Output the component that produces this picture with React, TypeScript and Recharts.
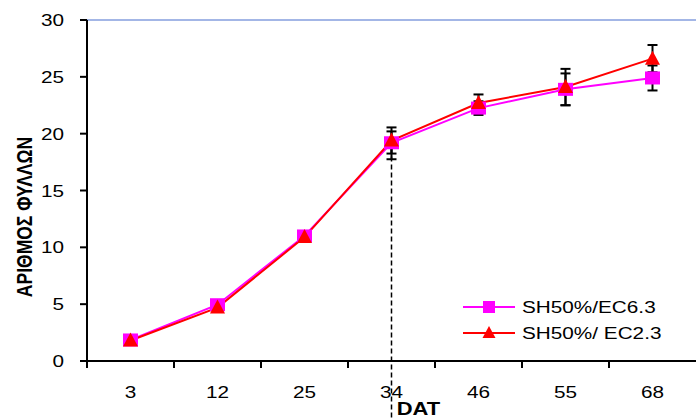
import React from 'react';
import { LineChart, Line, XAxis, YAxis, ErrorBar, ReferenceLine, Legend } from 'recharts';

const categories = ['3', '12', '25', '34', '46', '55', '68'];
const sh63Values = [1.85, 4.95, 11.0, 19.2, 22.25, 23.9, 24.9];
const sh23Values = [1.8, 4.7, 10.9, 19.4, 22.7, 24.1, 26.6];
const sh63Errors: (number[] | null)[] = [null, null, null, [1.45, 1.0], [0.6, 0.6], [1.4, 1.4], [1.1, 1.1]];
const sh23Errors: (number[] | null)[] = [null, null, null, [1.15, 1.15], [0.75, 0.75], [1.6, 1.6], [1.2, 1.2]];
const yTicks = [0, 5, 10, 15, 20, 25, 30];
const seriesNames = ['SH50%/EC6.3', 'SH50%/ EC2.3'];
const seriesColors = ['#FF00FF', '#FF0000'];
const markedCategory = '34';
const markedValue = 19.4;
const xAxisTitle = 'DAT';
const yAxisTitle = 'ΑΡΙΘΜΟΣ ΦΥΛΛΩΝ';

const data = categories.map((c, i) => ({
  dat: c,
  s63: sh63Values[i],
  s23: sh23Values[i],
  e63: sh63Errors[i],
  e23: sh23Errors[i],
}));

const FONT = '"Liberation Sans", Arial, sans-serif';
const SX = 1.22;
const FS = 17;

const SquareDot = (props: any) => {
  const { cx, cy, fill } = props;
  if (cx == null || cy == null) return null;
  return <rect x={cx - 7.5} y={cy - 6.5} width={15} height={13} fill={fill} />;
};

const TriangleDot = (props: any) => {
  const { cx, cy, fill } = props;
  if (cx == null || cy == null) return null;
  return <polygon points={`${cx},${cy - 8} ${cx + 7.5},${cy + 6} ${cx - 7.5},${cy + 6}`} fill={fill} />;
};

const XTick = (props: any) => {
  const { x, y, payload, width, visibleTicksCount } = props;
  const band = width / (visibleTicksCount || 7);
  const axisY = y - 25;
  return (
    <g>
      <line x1={x - band / 2} x2={x - band / 2} y1={axisY} y2={axisY + 7} stroke="#000" strokeWidth={2} />
      <text
        transform={`translate(${x},${y + 12}) scale(${SX},1)`}
        textAnchor="middle"
        fontFamily={FONT}
        fontSize={FS}
        fill="#000"
      >
        {payload.value}
      </text>
    </g>
  );
};

const YTick = (props: any) => {
  const { x, y, payload } = props;
  return (
    <text
      transform={`translate(${x},${y + 6}) scale(${SX},1)`}
      textAnchor="end"
      fontFamily={FONT}
      fontSize={FS}
      fill="#000"
    >
      {payload.value}
    </text>
  );
};

const XTitle = (props: any) => {
  const vb = props.viewBox || { x: 87, width: 609 };
  return (
    <text
      transform={`translate(${vb.x + vb.width / 2 + 27},415) scale(${SX},1)`}
      textAnchor="middle"
      fontFamily={FONT}
      fontSize={18}
      fontWeight="bold"
      fill="#000"
    >
      {xAxisTitle}
    </text>
  );
};

const YTitle = () => (
  <text
    transform={`translate(32,217) scale(${SX},1) rotate(-90)`}
    textAnchor="middle"
    fontFamily={FONT}
    fontSize={17.5}
    fontWeight="bold"
    fill="#000"
  >
    {yAxisTitle}
  </text>
);

const LegendContent = () => (
  <svg width={256} height={70} style={{ display: 'block' }}>
    {seriesNames.map((n, i) => {
      const cy = 27 + i * 26;
      return (
        <g key={n}>
          <line x1={23} x2={75} y1={cy} y2={cy} stroke={seriesColors[i]} strokeWidth={2} />
          {i === 0 ? (
            <rect x={49 - 6} y={cy - 6} width={12} height={12} fill={seriesColors[i]} />
          ) : (
            <polygon points={`49,${cy - 7} ${49 + 6.5},${cy + 5} ${49 - 6.5},${cy + 5}`} fill={seriesColors[i]} />
          )}
          <text
            transform={`translate(82,${cy + 6}) scale(${SX},1)`}
            fontFamily={FONT}
            fontSize={FS}
            fill="#000"
          >
            {n}
          </text>
        </g>
      );
    })}
  </svg>
);

export default function App() {
  return (
    <div style={{ position: 'absolute', left: 0, top: 0, width: 696, height: 418, background: '#fff' }}>
      <LineChart width={696} height={418} data={data} margin={{ top: 20, right: 0, left: 0, bottom: 27 }}>
        <XAxis
          dataKey="dat"
          scale="band"
          height={30}
          axisLine={{ stroke: '#000', strokeWidth: 2 }}
          tickLine={{ stroke: 'none' }}
          tickSize={7}
          tickMargin={18}
          tick={<XTick />}
          interval={0}
          label={<XTitle />}
        />
        <YAxis
          width={87}
          domain={[0, 30]}
          ticks={yTicks}
          axisLine={{ stroke: '#000', strokeWidth: 2 }}
          tickLine={{ stroke: '#000', strokeWidth: 2 }}
          tickSize={7}
          tickMargin={16}
          tick={<YTick />}
          label={<YTitle />}
        />
        <ReferenceLine y={30} stroke="#A3B6E6" strokeWidth={2} />
        <ReferenceLine
          segment={[{ x: markedCategory, y: markedValue }, { x: markedCategory, y: -5 }]}
          stroke="#000"
          strokeWidth={1.5}
          strokeDasharray="5 3"
          ifOverflow="visible"
        />
        <Legend
          layout="vertical"
          align="center"
          verticalAlign="middle"
          wrapperStyle={{ left: 440, top: 280, width: 256, height: 70 }}
          content={<LegendContent />}
        />
        <Line
          dataKey="s63"
          name={seriesNames[0]}
          stroke={seriesColors[0]}
          fill={seriesColors[0]}
          strokeWidth={2}
          dot={<SquareDot />}
          activeDot={false}
          isAnimationActive={false}
        >
          <ErrorBar dataKey="e63" stroke="#000" strokeWidth={2} width={5} direction="y" isAnimationActive={false} />
        </Line>
        <Line
          dataKey="s23"
          name={seriesNames[1]}
          stroke={seriesColors[1]}
          fill={seriesColors[1]}
          strokeWidth={2}
          dot={<TriangleDot />}
          activeDot={false}
          isAnimationActive={false}
        >
          <ErrorBar dataKey="e23" stroke="#000" strokeWidth={2} width={5} direction="y" isAnimationActive={false} />
        </Line>
      </LineChart>
    </div>
  );
}
